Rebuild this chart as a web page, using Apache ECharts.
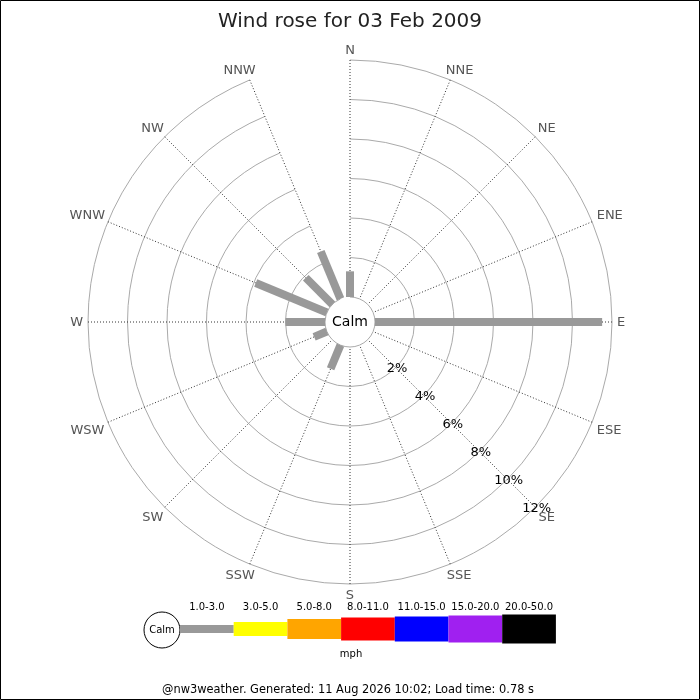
<!DOCTYPE html>
<html><head><meta charset="utf-8">
<script src="https://cdn.jsdelivr.net/npm/echarts@6/dist/echarts.min.js"></script>
<style>html,body{margin:0;padding:0;background:#fff}#c{width:700px;height:700px}</style>
</head><body><div id="c"></div>
<script>
// ---- data ----
const directions = ['N','NNE','NE','ENE','E','ESE','SE','SSE','S','SSW','SW','WSW','W','WNW','NW','NNW'];
const freq_1to3 = [1.3, 0, 0, 0, 11.5, 0, 0, 0, 0, 1.3, 0, 0.7, 2.0, 3.9, 1.9, 2.6]; // % of time, 1.0-3.0 mph
const radiusTicks = [0, 2, 4, 6, 8, 10, 12];
const speedBins = ['1.0-3.0','3.0-5.0','5.0-8.0','8.0-11.0','11.0-15.0','15.0-20.0','20.0-50.0'];
const titleText = 'Wind rose for 03 Feb 2009';
const footerText = '@nw3weather. Generated: 11 Aug 2026 10:02; Load time: 0.78 s';
const unitText = 'mph';
const calmText = 'Calm';

// ---- styles ----
const binColors = ['#999999','#ffff00','#ffa500','#ff0000','#0000ff','#a020f0','#000000'];
const legendHeights = [8, 14, 20, 23, 25, 27, 29];
const FONT = 'DejaVu Sans';
const DIR_FONT = '13px "' + FONT + '"';
const CX = 350, CY = 322, R0 = 25, R1 = 262;
const RMAX = radiusTicks[radiusTicks.length - 1];

const chart = echarts.init(document.getElementById('c'), null, {renderer: 'canvas'});

const measureCtx = document.createElement('canvas').getContext('2d');
measureCtx.font = DIR_FONT;

const barData = directions.map((d, i) => [freq_1to3[i], i]);
const dirLabelData = directions.map((d, i) => [RMAX, i]);

const graphics = [];
graphics.push({type: 'rect', shape: {x: 0.5, y: 0.5, width: 699, height: 699}, style: {fill: 'none', stroke: '#000', lineWidth: 1}, z: 100});
graphics.push({type: 'text', x: CX, y: CY, z: 100, style: {text: calmText, x: 0, y: 0, align: 'center', verticalAlign: 'middle', fill: '#000', font: '14px "' + FONT + '"'}});
// speed legend
const LX0 = 180, LW = 53.7, LCY = 629;
graphics.push({type: 'circle', shape: {cx: 162, cy: 630, r: 18}, style: {fill: '#fff', stroke: '#000', lineWidth: 1}, z: 10});
graphics.push({type: 'text', x: 162, y: 630, z: 11, style: {text: calmText, align: 'center', verticalAlign: 'middle', fill: '#000', font: '10px "' + FONT + '"'}});
speedBins.forEach((b, i) => {
  const h = legendHeights[i];
  graphics.push({type: 'rect', shape: {x: LX0 + i * LW, y: LCY - h / 2, width: LW, height: h}, style: {fill: binColors[i]}, z: 10});
  graphics.push({type: 'text', x: LX0 + i * LW + LW / 2, y: 607.5, z: 10, style: {text: b, align: 'center', verticalAlign: 'middle', fill: '#000', font: '10px "' + FONT + '"'}});
});
graphics.push({type: 'text', x: 351, y: 654, z: 10, style: {text: unitText, align: 'center', verticalAlign: 'middle', fill: '#000', font: '10px "' + FONT + '"'}});
graphics.push({type: 'text', x: 348, y: 690.5, z: 10, style: {text: footerText, align: 'center', verticalAlign: 'middle', fill: '#000', font: '11.4px "' + FONT + '"'}});

const option = {
  animation: false,
  backgroundColor: '#fff',
  title: {text: titleText, left: 'center', top: 7, textStyle: {fontSize: 20, fontWeight: 'normal', color: '#222', fontFamily: FONT}},
  polar: [
    {center: [CX, CY], radius: [R0, R1]},
    {center: [CX, CY], radius: [R0 + 2, R1 + 2]}
  ],
  angleAxis: [
    {
      polarIndex: 0, type: 'category', data: directions, boundaryGap: false, startAngle: 90, clockwise: true,
      axisLine: {show: false}, axisTick: {show: false}, axisLabel: {show: false},
      splitLine: {show: true, lineStyle: {color: '#333', type: [1, 2], width: 1}}
    },
    {polarIndex: 1, type: 'value', min: 0, max: 360, startAngle: -45, show: false}
  ],
  radiusAxis: [
    {
      polarIndex: 0, type: 'value', min: radiusTicks[0], max: RMAX, interval: 2,
      axisLine: {show: false}, axisTick: {show: false}, axisLabel: {show: false},
      splitLine: {show: true, lineStyle: {color: '#aaa', width: 1}}
    },
    {
      polarIndex: 1, type: 'value', min: radiusTicks[0], max: RMAX, interval: 2,
      axisLine: {show: false}, axisTick: {show: false}, splitLine: {show: false},
      axisLabel: {show: true, margin: 0, align: 'center', verticalAlign: 'middle', color: '#000', fontSize: 13, fontFamily: FONT,
        formatter: v => (v === 0 ? '' : v + '%')},
      z: 5
    }
  ],
  series: [{
    type: 'custom', name: speedBins[0], coordinateSystem: 'polar', polarIndex: 0,
    data: barData,
    encode: {radius: 0, angle: 1},
    renderItem: function (params, api) {
      const v = api.value(0), a = api.value(1);
      if (!v) return null;
      const p0 = api.coord([0, a]);
      const p1 = api.coord([v, a]);
      const dx = p1[0] - p0[0], dy = p1[1] - p0[1];
      const L = Math.hypot(dx, dy) || 1;
      const nx = -dy / L * 4, ny = dx / L * 4;
      return {
        type: 'polygon',
        shape: {points: [[p0[0] + nx, p0[1] + ny], [p1[0] + nx, p1[1] + ny], [p1[0] - nx, p1[1] - ny], [p0[0] - nx, p0[1] - ny]]},
        style: {fill: binColors[0]}
      };
    },
    z: 3
  }, {
    type: 'custom', name: 'directions', coordinateSystem: 'polar', polarIndex: 0,
    data: dirLabelData, silent: true,
    encode: {radius: 0, angle: 1},
    renderItem: function (params, api) {
      const a = api.value(1);
      const p0 = api.coord([0, a]);
      const p1 = api.coord([api.value(0), a]);
      const dx = p1[0] - p0[0], dy = p1[1] - p0[1];
      const L = Math.hypot(dx, dy) || 1;
      const ux = dx / L, uy = dy / L;
      const label = directions[a];
      const hw = measureCtx.measureText(label).width / 2, hh = 5.5;
      const byW = Math.abs(ux) > 1e-6 ? hw / Math.abs(ux) : Infinity;
      const byH = Math.abs(uy) > 1e-6 ? hh / Math.abs(uy) : Infinity;
      const ext = Math.min(byW, byH);
      const d = 5 + ext;
      let x = p1[0] + ux * d, y = p1[1] + uy * d + 1;
      if (byH <= byW && Math.abs(ux) > 1e-6) x += Math.sign(ux) * hw * 0.4 * Math.abs(uy);
      return {
        type: 'text', x: x, y: y,
        style: {text: label, align: 'center', verticalAlign: 'middle', fill: '#555', font: DIR_FONT}
      };
    },
    z: 4
  }],
  graphic: graphics
};
chart.setOption(option);
</script></body></html>
